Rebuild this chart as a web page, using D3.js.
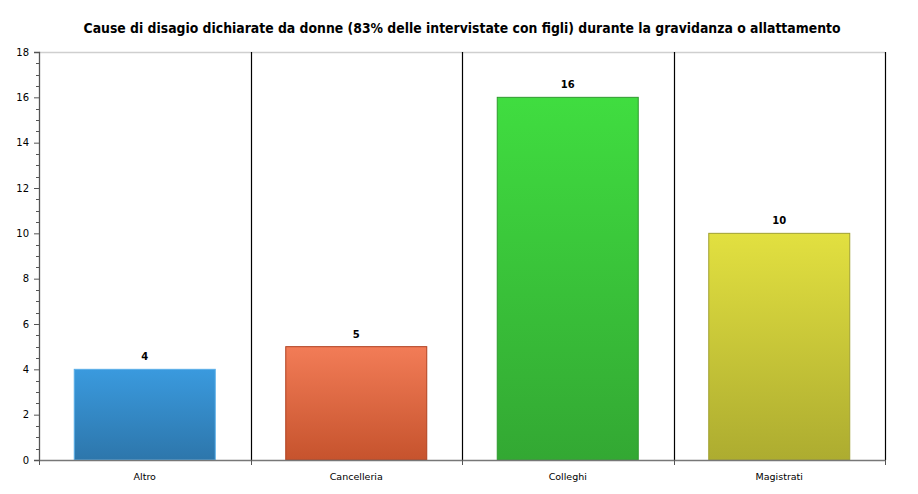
<!DOCTYPE html>
<html><head><meta charset="utf-8">
<script src="https://cdn.jsdelivr.net/npm/d3@7"></script>
<style>body{margin:0;background:#fff}svg{display:block}</style>
</head><body>
<svg id="c" width="918" height="494"></svg>
<script>
const title = "Cause di disagio dichiarate da donne (83% delle intervistate con figli) durante la gravidanza o allattamento";
const categories = ["Altro", "Cancelleria", "Colleghi", "Magistrati"];
const values = [4, 5, 16, 10];
const yTicks = [0, 2, 4, 6, 8, 10, 12, 14, 16, 18];
const topColors = ["#3a9ade", "#f27c57", "#40dd40", "#e2e040"];
const bottomColors = ["#2d76ab", "#c6532d", "#33a833", "#adac30"];
const borderColors = ["#5aaee8", "#b0401f", "#2f9a2f", "#a0a030"];

const svg = d3.select("#c");
const L = 39, R = 885, T = 52, B = 460;
const font = "Tahoma, 'DejaVu Sans', Verdana, sans-serif";

const x = d3.scaleBand().domain(categories).range([L, R]).paddingInner(0).paddingOuter(0);
const y = d3.scaleLinear().domain([0, 18]).range([B, T]);

const defs = svg.append("defs");
categories.forEach((c, i) => {
  const g = defs.append("linearGradient").attr("id", "g" + i).attr("x1", 0).attr("y1", 0).attr("x2", 0).attr("y2", 1);
  g.append("stop").attr("offset", "0%").attr("stop-color", topColors[i]);
  g.append("stop").attr("offset", "100%").attr("stop-color", bottomColors[i]);
});

// title
const tt = svg.append("text").attr("x", 462).attr("y", 33).attr("text-anchor", "middle")
  .attr("font-family", font).attr("font-weight", "bold").attr("font-size", 13.5).attr("fill", "#000").text(title);
tt.attr("textLength", 757).attr("lengthAdjust", "spacingAndGlyphs");

// top border line
svg.append("line").attr("x1", L).attr("x2", R).attr("y1", T + 0.5).attr("y2", T + 0.5).attr("stroke", "#cfcfcf").attr("stroke-width", 1.5);

// category separators
categories.forEach((c, i) => {
  const xx = Math.round(x(c) + x.bandwidth()) + 0.5;
  svg.append("line").attr("x1", xx).attr("x2", xx).attr("y1", T).attr("y2", B).attr("stroke", "#000").attr("stroke-width", 1.2);
});

// bars
const bw = x.bandwidth() * 2 / 3;
svg.selectAll("rect.bar").data(values).enter().append("rect")
  .attr("x", (d, i) => x(categories[i]) + (x.bandwidth() - bw) / 2)
  .attr("y", d => y(d))
  .attr("width", bw)
  .attr("height", d => B - y(d))
  .attr("fill", (d, i) => `url(#g${i})`)
  .attr("stroke", (d, i) => borderColors[i]).attr("stroke-width", 1);

// value labels
svg.selectAll("text.val").data(values).enter().append("text")
  .attr("x", (d, i) => x(categories[i]) + x.bandwidth() / 2)
  .attr("y", d => y(d) - 9)
  .attr("text-anchor", "middle").attr("font-family", font).attr("font-weight", "bold").attr("font-size", 10)
  .text(d => d);

// y axis
const yAxis = d3.axisLeft(y).tickValues(yTicks).tickSize(5).tickPadding(5).tickFormat(d3.format("d"));
const ya = svg.append("g").attr("transform", `translate(${L},0)`).call(yAxis);
ya.select(".domain").attr("stroke", "#555").attr("stroke-width", 1.3);
ya.selectAll(".tick line").attr("stroke", "#555");
ya.selectAll("text").attr("font-family", font).attr("font-size", 10).attr("fill", "#000");
// minor ticks
const minor = d3.range(0, 18.01, 0.5).filter(v => v % 2 !== 0);
svg.append("g").selectAll("line").data(minor).enter().append("line")
  .attr("x1", L - 3).attr("x2", L).attr("y1", d => Math.round(y(d)) + 0.5).attr("y2", d => Math.round(y(d)) + 0.5)
  .attr("stroke", "#555");

// x axis
const xa = svg.append("g").attr("transform", `translate(0,${B})`).call(d3.axisBottom(x).tickSize(0).tickPadding(13));
xa.select(".domain").attr("stroke", "#777").attr("stroke-width", 1.3);
xa.selectAll("text").attr("font-family", font).attr("font-size", 9.5).attr("fill", "#000");
// boundary ticks
const bounds = [L].concat(categories.map(c => x(c) + x.bandwidth()));
svg.append("g").selectAll("line").data(bounds).enter().append("line")
  .attr("x1", d => Math.round(d) + 0.5).attr("x2", d => Math.round(d) + 0.5).attr("y1", B).attr("y2", B + 5)
  .attr("stroke", "#555");
</script>
</body></html>
